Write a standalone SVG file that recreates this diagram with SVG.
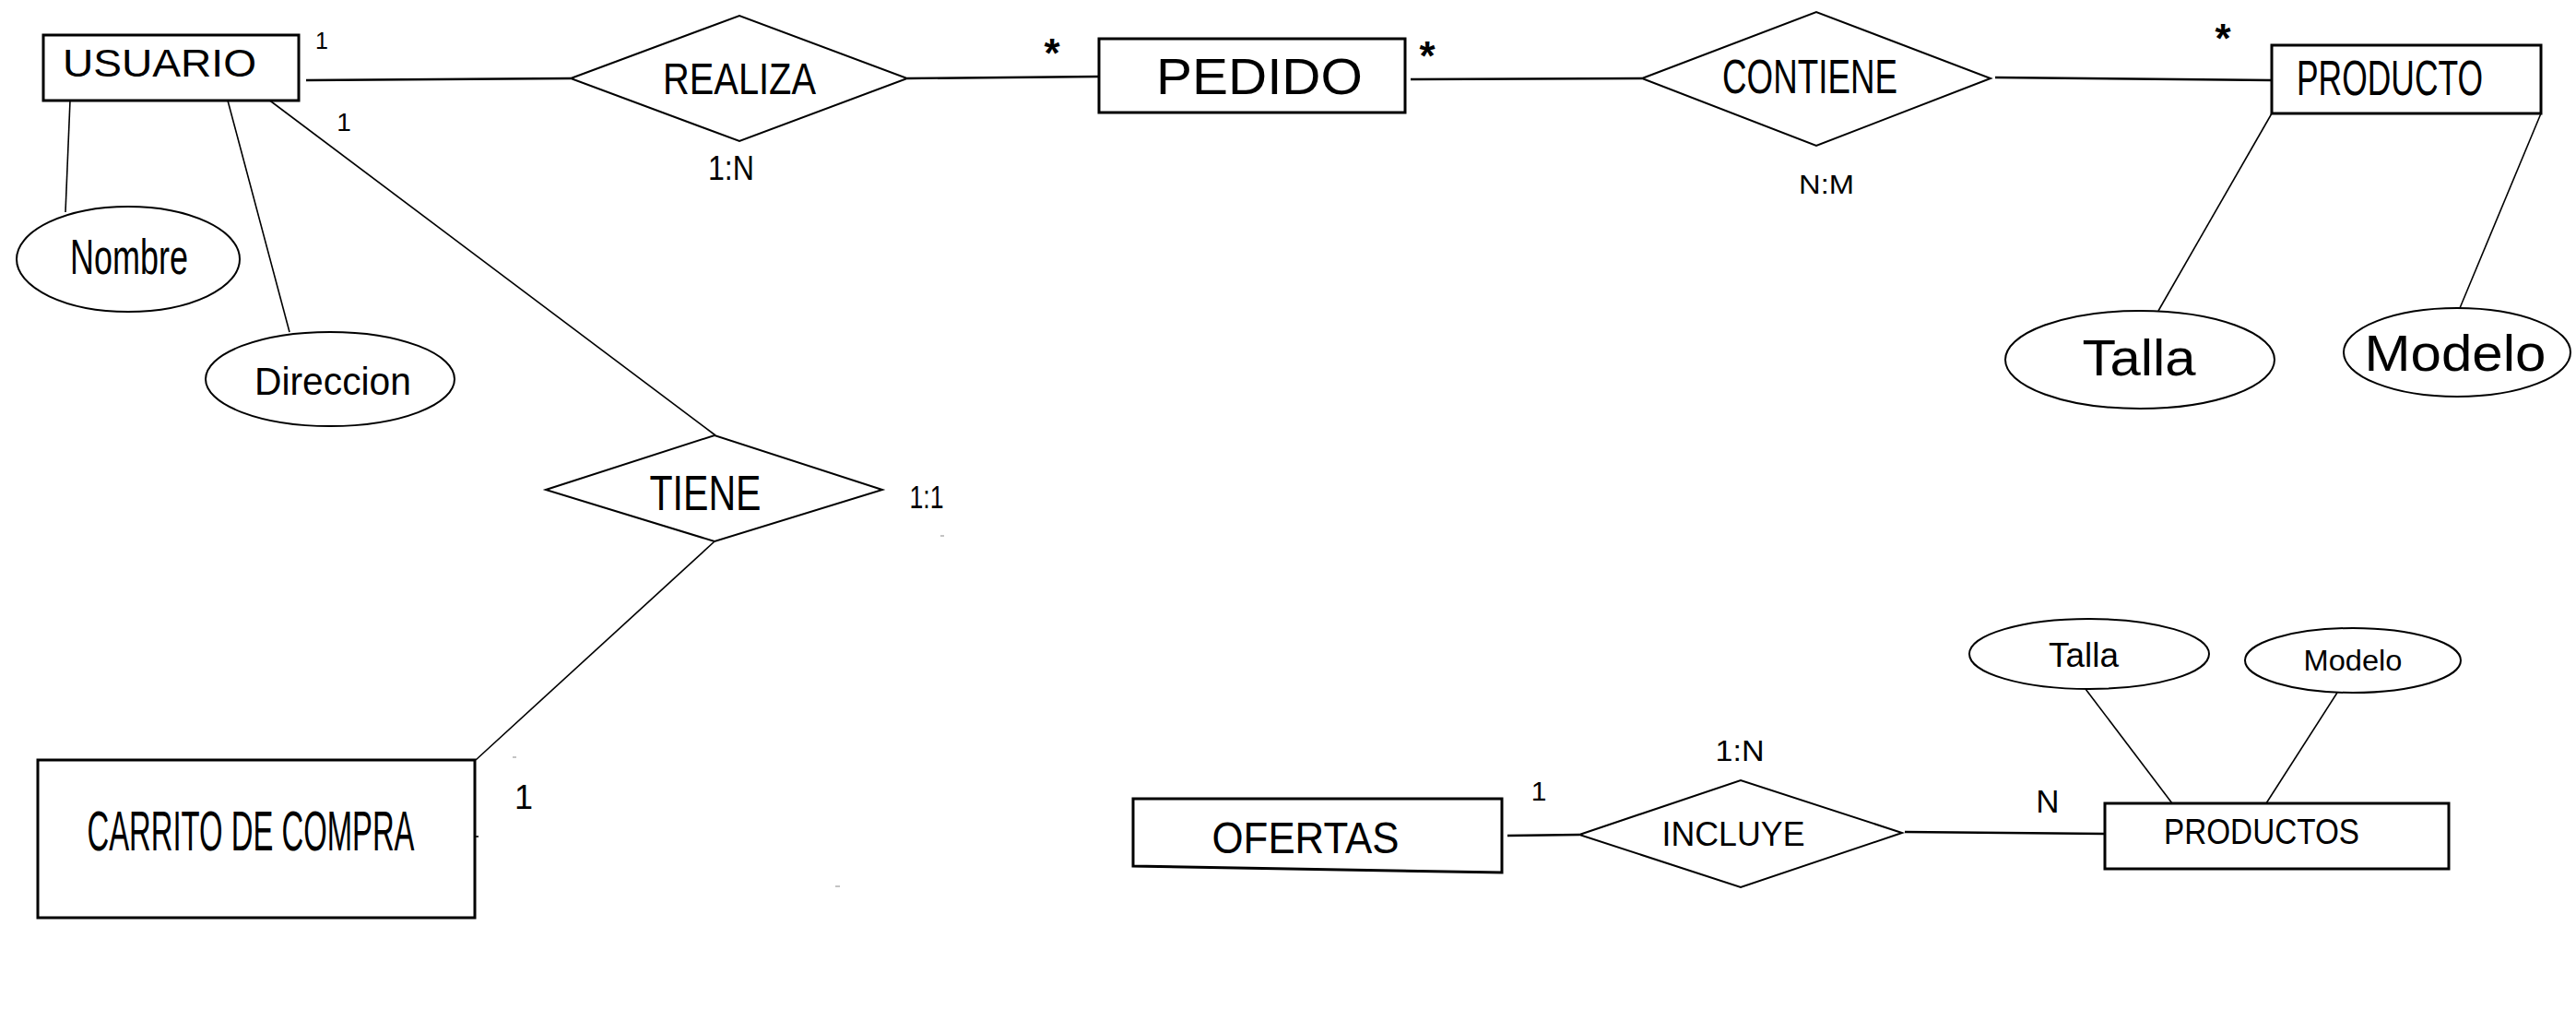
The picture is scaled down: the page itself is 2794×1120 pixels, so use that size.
<svg xmlns="http://www.w3.org/2000/svg" width="2794" height="1120" viewBox="0 0 2794 1120">
<style>
.ent{fill:#fff;stroke:#000;stroke-width:3}
.rel{fill:#fff;stroke:#000;stroke-width:2}
.att{fill:#fff;stroke:#000;stroke-width:2}
.ln{fill:none;stroke:#000;stroke-width:1.6}
.lt{fill:none;stroke:#000;stroke-width:2.4}
.mk{fill:none;stroke:#888;stroke-width:1}
text{font-family:"Liberation Sans",Arial,sans-serif;fill:#000;text-anchor:middle}
.ast{font-weight:bold;font-size:44px}
</style>
<rect width="2794" height="1120" fill="#fff"/>
<g id="connectors">
<line class="lt" x1="332" y1="87" x2="619" y2="85"/>
<line class="lt" x1="984" y1="85" x2="1192" y2="83"/>
<line class="lt" x1="1530" y1="86" x2="1781" y2="85"/>
<line class="lt" x1="2164" y1="84" x2="2464" y2="87"/>
<line class="ln" x1="76" y1="109" x2="71" y2="230"/>
<line class="ln" x1="247" y1="109" x2="314" y2="360"/>
<line class="ln" x1="290" y1="107" x2="776" y2="472"/>
<line class="ln" x1="775" y1="587" x2="516" y2="824"/>
<line class="ln" x1="2464" y1="123" x2="2341" y2="337"/>
<line class="ln" x1="2756" y1="123" x2="2668" y2="334"/>
<line class="lt" x1="1635" y1="906" x2="1713" y2="905"/>
<line class="lt" x1="2066" y1="902" x2="2283" y2="904"/>
<line class="ln" x1="2262" y1="747" x2="2356" y2="871"/>
<line class="ln" x1="2535" y1="751" x2="2458" y2="871"/>
<line class="mk" x1="1020" y1="581" x2="1024" y2="581"/>
<line class="mk" x1="556" y1="821" x2="560" y2="821"/>
<line class="ln" x1="515" y1="907" x2="519" y2="907"/>
<line class="mk" x1="906" y1="961" x2="911" y2="961"/>
</g>
<g id="usuario">
<rect class="ent" x="47" y="38" width="277" height="71"/>
<text x="173" y="83" font-size="42" textLength="210" lengthAdjust="spacingAndGlyphs">USUARIO</text>
</g>
<g id="nombre">
<ellipse class="att" cx="139" cy="281" rx="121" ry="57"/>
<text x="140" y="297" font-size="54" textLength="128" lengthAdjust="spacingAndGlyphs">Nombre</text>
</g>
<g id="direccion">
<ellipse class="att" cx="358" cy="411" rx="135" ry="51"/>
<text x="361" y="428" font-size="43" textLength="170" lengthAdjust="spacingAndGlyphs">Direccion</text>
</g>
<g id="realiza">
<polygon class="rel" points="619,85 802,17 984,85 802,153"/>
<text x="802" y="102" font-size="49" textLength="166" lengthAdjust="spacingAndGlyphs">REALIZA</text>
</g>
<g id="pedido">
<rect class="ent" x="1192" y="42" width="332" height="80"/>
<text x="1366" y="102" font-size="56" textLength="224" lengthAdjust="spacingAndGlyphs">PEDIDO</text>
</g>
<g id="contiene">
<polygon class="rel" points="1781,85 1970,13 2159,85 1970,158"/>
<text x="1963" y="101" font-size="51" textLength="190" lengthAdjust="spacingAndGlyphs">CONTIENE</text>
</g>
<g id="producto">
<rect class="ent" x="2464" y="49" width="292" height="74"/>
<text x="2592" y="103" font-size="53" textLength="202" lengthAdjust="spacingAndGlyphs">PRODUCTO</text>
</g>
<g id="talla1">
<ellipse class="att" cx="2321" cy="390" rx="146" ry="53"/>
<text x="2320" y="407" font-size="56" textLength="123" lengthAdjust="spacingAndGlyphs">Talla</text>
</g>
<g id="modelo1">
<ellipse class="att" cx="2665" cy="382" rx="123" ry="48"/>
<text x="2663" y="402" font-size="56" textLength="197" lengthAdjust="spacingAndGlyphs">Modelo</text>
</g>
<g id="tiene">
<polygon class="rel" points="592,531 775,472 957,531 775,587"/>
<text x="765" y="553" font-size="54" textLength="121" lengthAdjust="spacingAndGlyphs">TIENE</text>
</g>
<g id="carrito">
<rect class="ent" x="41" y="824" width="474" height="171"/>
<text x="272" y="922" font-size="61" textLength="355" lengthAdjust="spacingAndGlyphs">CARRITO DE COMPRA</text>
</g>
<g id="ofertas">
<polygon class="ent" points="1229,866 1629,866 1629,946 1229,939"/>
<text x="1416" y="925" font-size="49" textLength="203" lengthAdjust="spacingAndGlyphs">OFERTAS</text>
</g>
<g id="incluye">
<polygon class="rel" points="1713,905 1888,846 2063,903 1888,962"/>
<text x="1880" y="917" font-size="37" textLength="155" lengthAdjust="spacingAndGlyphs">INCLUYE</text>
</g>
<g id="productos">
<rect class="ent" x="2283" y="871" width="373" height="71"/>
<text x="2453" y="915" font-size="39" textLength="212" lengthAdjust="spacingAndGlyphs">PRODUCTOS</text>
</g>
<g id="talla2">
<ellipse class="att" cx="2266" cy="709" rx="130" ry="38"/>
<text x="2260" y="723" font-size="36" textLength="76" lengthAdjust="spacingAndGlyphs">Talla</text>
</g>
<g id="modelo2">
<ellipse class="att" cx="2552" cy="716" rx="117" ry="35"/>
<text x="2552" y="727" font-size="31" textLength="107" lengthAdjust="spacingAndGlyphs">Modelo</text>
</g>
<g id="labels">
<text x="349" y="53" font-size="25">1</text>
<text x="373" y="142" font-size="28">1</text>
<text x="793" y="195" font-size="37" textLength="50" lengthAdjust="spacingAndGlyphs">1:N</text>
<text class="ast" x="1141" y="73">*</text>
<text class="ast" x="1548" y="76" font-size="50">*</text>
<text class="ast" x="2411" y="57">*</text>
<text x="1981" y="210" font-size="30" textLength="60" lengthAdjust="spacingAndGlyphs">N:M</text>
<text x="1005" y="551" font-size="35" textLength="37" lengthAdjust="spacingAndGlyphs">1:1</text>
<text x="568" y="877" font-size="36">1</text>
<text x="1669" y="868" font-size="30">1</text>
<text x="1887" y="825" font-size="32" textLength="53" lengthAdjust="spacingAndGlyphs">1:N</text>
<text x="2221" y="881" font-size="35">N</text>
</g>
</svg>
